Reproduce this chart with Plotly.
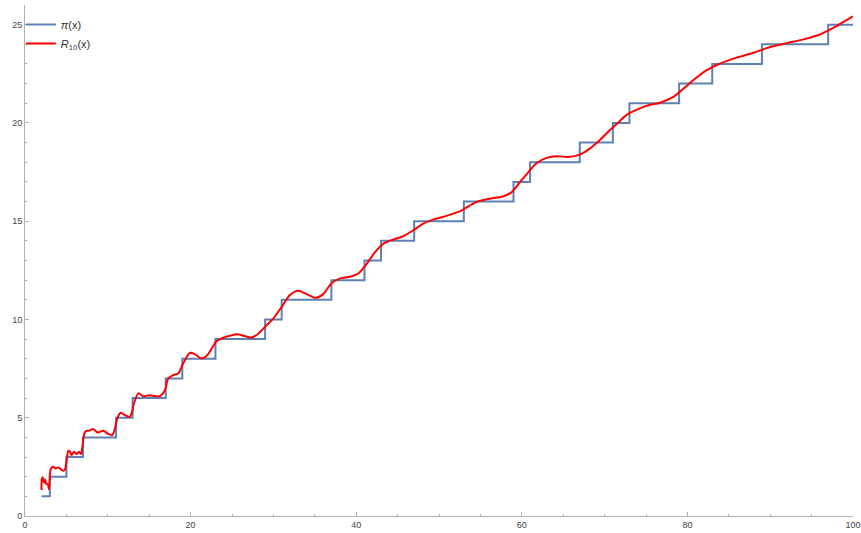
import plotly.graph_objects as go

# prime-counting step function: primes up to 100 and counts
primes = [2, 3, 5, 7, 11, 13, 17, 19, 23, 29, 31, 37, 41, 43, 47, 53, 59, 61, 67, 71, 73, 79, 83, 89, 97, 100]
pi_counts = [1, 2, 3, 4, 5, 6, 7, 8, 9, 10, 11, 12, 13, 14, 15, 16, 17, 18, 19, 20, 21, 22, 23, 24, 25, 25]

# R_10(x)
r10_x = [2.0, 2.02, 2.13, 2.3, 2.42, 2.58, 2.74, 2.9, 3.02, 3.14, 3.42, 3.7, 4.0, 4.35, 4.63, 4.83,
         5.03, 5.23, 5.43, 5.64, 5.92, 6.24, 6.52, 6.76, 6.96, 7.17, 7.37, 7.73, 8.25, 8.78, 9.46,
         10.07, 10.55, 10.87, 11.15, 11.56, 12.08, 12.6, 12.88, 13.16, 13.7, 14.3, 15.1, 15.7, 16.3,
         16.9, 17.3, 17.9, 18.5, 19.1, 19.93, 20.5, 21.3, 21.9, 22.55, 23.15, 23.95, 24.76, 25.6,
         26.6, 27.4, 28.2, 29.2, 30.0, 31.0, 32.0, 33.0, 34.0, 35.1, 36.0, 37.0, 38.0, 39.25, 40.25,
         41.3, 42.3, 43.3, 44.5, 45.7, 46.9, 48.1, 49.3, 50.9, 52.5, 53.1, 54.55, 56.2, 57.8, 58.8,
         59.8, 60.8, 61.8, 63.0, 64.2, 65.6, 67.0, 68.2, 69.4, 70.4, 71.5, 72.7, 73.9, 75.3, 76.7,
         78.3, 79.3, 80.7, 82.3, 83.9, 85.95, 87.96, 90.0, 92.0, 94.0, 96.0, 97.4, 98.8, 100.0]
r10_y = [1.32, 1.83, 1.97, 1.69, 1.86, 1.63, 1.63, 1.36, 2.17, 2.42, 2.51, 2.42, 2.47, 2.37, 2.3, 2.37,
         2.85, 3.32, 3.27, 3.1, 3.27, 3.15, 3.27, 3.15, 3.61, 4.2, 4.32, 4.34, 4.42, 4.25, 4.34,
         4.17, 4.12, 4.46, 4.97, 5.25, 5.13, 5.04, 5.22, 5.73, 6.24, 6.1, 6.15, 6.1, 6.1,
         6.4, 7.0, 7.17, 7.25, 7.76, 8.3, 8.24, 8.02, 8.13, 8.52, 8.9, 9.07, 9.17, 9.25,
         9.15, 9.08, 9.29, 9.71, 10.05, 10.64, 11.24, 11.46, 11.29, 11.1, 11.29, 11.83, 12.08, 12.17, 12.34,
         12.85, 13.44, 13.86, 14.07, 14.24, 14.54, 14.88, 15.08, 15.27, 15.5, 15.64, 15.98, 16.15, 16.27, 16.49,
         17.0, 17.5, 17.96, 18.22, 18.3, 18.27, 18.39, 18.69, 19.12, 19.54, 19.96, 20.42, 20.68, 20.9, 21.03,
         21.32, 21.66, 22.17, 22.67, 23.01, 23.32, 23.57, 23.86, 24.06, 24.25, 24.5, 24.79, 25.13, 25.42]

x_ticks = [0, 20, 40, 60, 80, 100]
y_ticks = [0, 5, 10, 15, 20, 25]

FONT = "Liberation Sans"
AXIS_COLOR = "#b0b0b0"

fig = go.Figure()
fig.add_trace(go.Scatter(
    x=primes, y=pi_counts, mode="lines", line_shape="hv",
    line=dict(color="#5e81b5", width=2), name="<i>π</i>(x)"))
fig.add_trace(go.Scatter(
    x=r10_x, y=r10_y, mode="lines", line_shape="spline",
    line=dict(color="#ff0000", width=2, smoothing=0.8),
    name="<i>R</i><sub>10</sub>(x)"))

axis_common = dict(
    showline=True, linecolor=AXIS_COLOR, linewidth=1, showgrid=False, zeroline=False,
    ticks="inside", ticklen=4, tickcolor=AXIS_COLOR, tickwidth=1, automargin=False,
    tickfont=dict(family=FONT, size=9, color="#444444"),
    minor=dict(ticks="inside", ticklen=2, tickcolor=AXIS_COLOR, showgrid=False),
)

fig.update_xaxes(range=[0, 100], tickvals=x_ticks, minor_dtick=5, **axis_common)
fig.update_yaxes(range=[0, 26], tickvals=y_ticks, minor_dtick=1, **axis_common)

fig.update_layout(
    width=861, height=533,
    margin=dict(l=25, r=8, t=5, b=17),
    plot_bgcolor="white", paper_bgcolor="white",
    font=dict(family=FONT, size=10, color="#333333"),
    legend=dict(x=-0.005, y=0.99, xanchor="left", yanchor="top",
                bgcolor="rgba(0,0,0,0)", font=dict(size=11), tracegroupgap=0),
)

fig.write_html(
    "out.html",
    config={"displayModeBar": False},
    post_script="document.body.style.margin='0px';document.body.style.overflow='hidden';",
)
